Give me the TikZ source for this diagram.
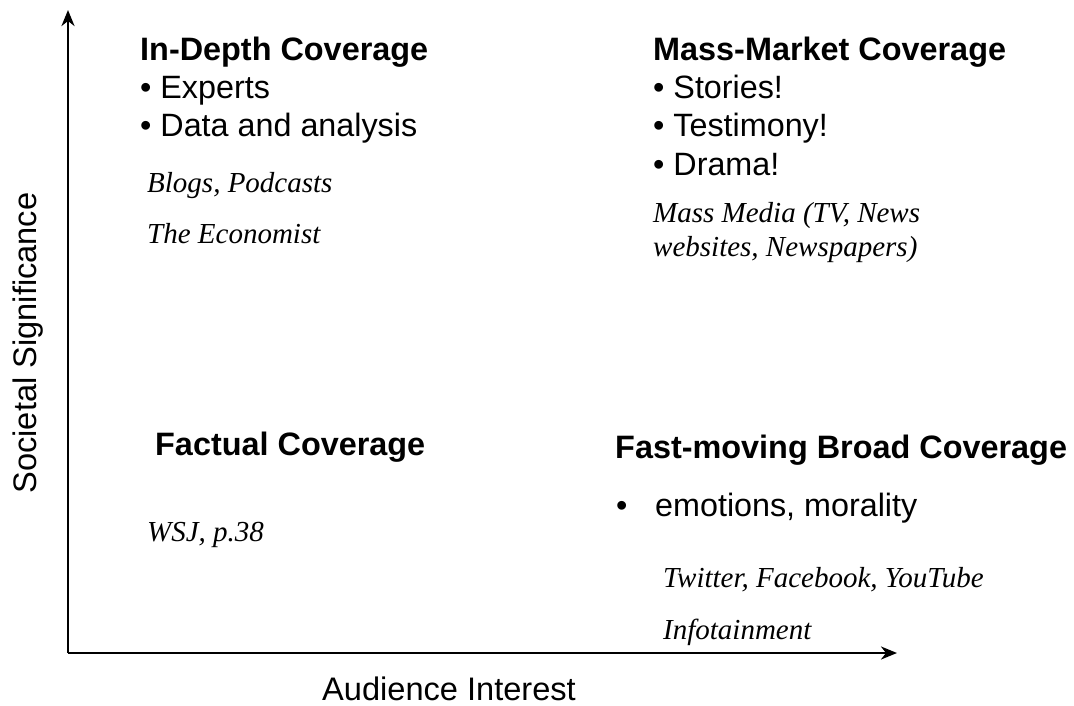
\documentclass[tikz,border=0pt]{standalone}
\usepackage{fontspec}
\setmainfont{Liberation Sans}
\newfontfamily\seriffont{Liberation Serif}
\usetikzlibrary{arrows.meta}
\begin{document}
\begin{tikzpicture}[x=1pt,y=-1pt,
  axis/.style={line width=2.6pt,-{Stealth[length=16pt,width=13pt,inset=5pt]}},
  head/.style={anchor=base west,inner sep=0pt,font=\fontsize{32.4}{38}\selectfont\bfseries},
  item/.style={anchor=base west,inner sep=0pt,font=\fontsize{32.3}{38}\selectfont},
  media/.style={anchor=base west,inner sep=0pt,font=\fontsize{29}{34}\seriffont\itshape},
  axlabel/.style={inner sep=0pt,font=\fontsize{32.6}{38}\selectfont}]
\useasboundingbox (0,0) rectangle (1074,705);

% axes
\coordinate (origin) at (68,653);
\coordinate (ytop) at (68,10);
\coordinate (xend) at (897,653);
\draw[axis] (origin) -- (ytop);
\draw[axis] (origin) -- (xend);
\node[axlabel,anchor=base] (xlab) at (449,700) {Audience Interest};
\node[axlabel,anchor=base,rotate=90] (ylab) at (36,343) {Societal Significance};

% top left quadrant
\node[head] (indepth) at (140,60) {In-Depth Coverage};
\node[item] (experts) at (140,98) {\textbullet\ Experts};
\node[item] (data) at (140,136) {\textbullet\ Data and analysis};
\node[media] (blogs) at (147,192) {Blogs, Podcasts};
\node[media] (econ) at (147,243) {The Economist};

% top right quadrant
\node[head] (mass) at (653,60) {Mass-Market Coverage};
\node[item] (stories) at (653,98) {\textbullet\ Stories!};
\node[item] (testimony) at (653,136) {\textbullet\ Testimony!};
\node[item] (drama) at (653,175) {\textbullet\ Drama!};
\node[media] (mm1) at (653,222) {Mass Media (TV, News};
\node[media] (mm2) at (653,256) {websites, Newspapers)};

% bottom left quadrant
\node[head] (factual) at (155,455) {Factual Coverage};
\node[media] (wsj) at (147,541) {WSJ, p.38};

% bottom right quadrant
\node[head] (fast) at (615,458) {Fast-moving Broad Coverage};
\node[item] (bul) at (616,516) {\textbullet};
\node[item] (emo) at (655,516) {emotions, morality};
\node[media] (social) at (663,587) {Twitter, Facebook, YouTube};
\node[media] (info) at (663,639) {Infotainment};
\end{tikzpicture}
\end{document}
